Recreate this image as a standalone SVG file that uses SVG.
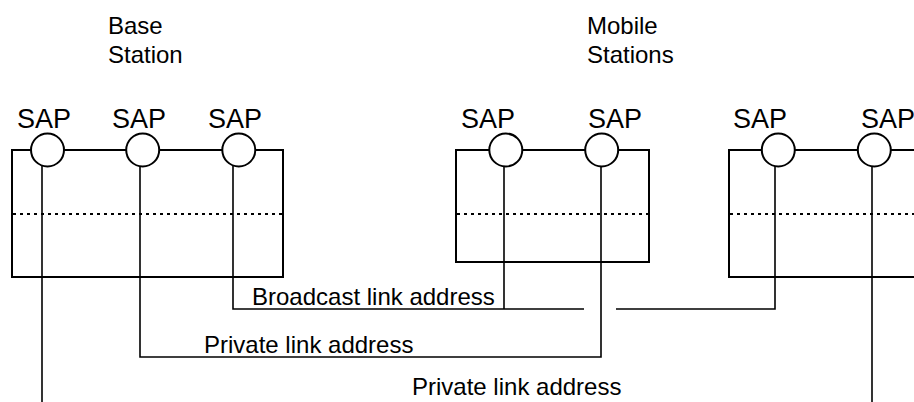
<svg xmlns="http://www.w3.org/2000/svg" width="914" height="402" viewBox="0 0 914 402">
<style>
text{font-family:"Liberation Sans",Arial,sans-serif;fill:#000}
.t{font-size:24px}
.sap{font-size:27px}
.box{fill:none;stroke:#000;stroke-width:2}
.dot{stroke:#000;stroke-width:2;stroke-dasharray:3 4;fill:none}
.c{fill:#fff;stroke:#000;stroke-width:2}
.w{fill:none;stroke:#000;stroke-width:1.6}
</style>
<rect width="914" height="402" fill="#fff"/>
<g id="title-base"><text class="t" x="108" y="34">Base</text><text class="t" x="108" y="63">Station</text></g>
<g id="title-mobile"><text class="t" x="587" y="34">Mobile</text><text class="t" x="587" y="63">Stations</text></g>
<g id="connectors">
<polyline class="w" points="42,166 42,402"/>
<polyline class="w" points="140,166 140,357 601,357 601,166"/>
<polyline class="w" points="233,166 233,309 584,309"/>
<polyline class="w" points="504,166 504,309"/>
<polyline class="w" points="616,309 775,309 775,166"/>
<polyline class="w" points="872,166 872,402"/>
<text class="t" x="252" y="305">Broadcast link address</text>
<text class="t" x="204" y="352.5">Private link address</text>
<text class="t" x="412" y="395">Private link address</text>
</g>
<g id="base-station">
<rect class="box" x="12" y="150" width="271" height="127"/>
<line class="dot" x1="13" y1="214" x2="282" y2="214"/>
<circle class="c" cx="47.5" cy="150" r="16.5"/>
<circle class="c" cx="142.7" cy="150" r="16.5"/>
<circle class="c" cx="238.8" cy="150" r="16.5"/>
<text class="sap" x="17" y="128">SAP</text>
<text class="sap" x="112" y="128">SAP</text>
<text class="sap" x="208" y="128">SAP</text>
</g>
<g id="mobile-station-1">
<rect class="box" x="456" y="150" width="193" height="112"/>
<line class="dot" x1="457" y1="214" x2="648" y2="214"/>
<circle class="c" cx="505.8" cy="150" r="16.5"/>
<circle class="c" cx="601.7" cy="150" r="16.5"/>
<text class="sap" x="461" y="128">SAP</text>
<text class="sap" x="588" y="128">SAP</text>
</g>
<g id="mobile-station-2">
<rect class="box" x="729" y="150" width="200" height="127"/>
<line class="dot" x1="730" y1="214" x2="914" y2="214"/>
<circle class="c" cx="778.3" cy="150" r="16.5"/>
<circle class="c" cx="874.3" cy="150" r="16.5"/>
<text class="sap" x="733" y="128">SAP</text>
<text class="sap" x="861" y="128">SAP</text>
</g>
</svg>
